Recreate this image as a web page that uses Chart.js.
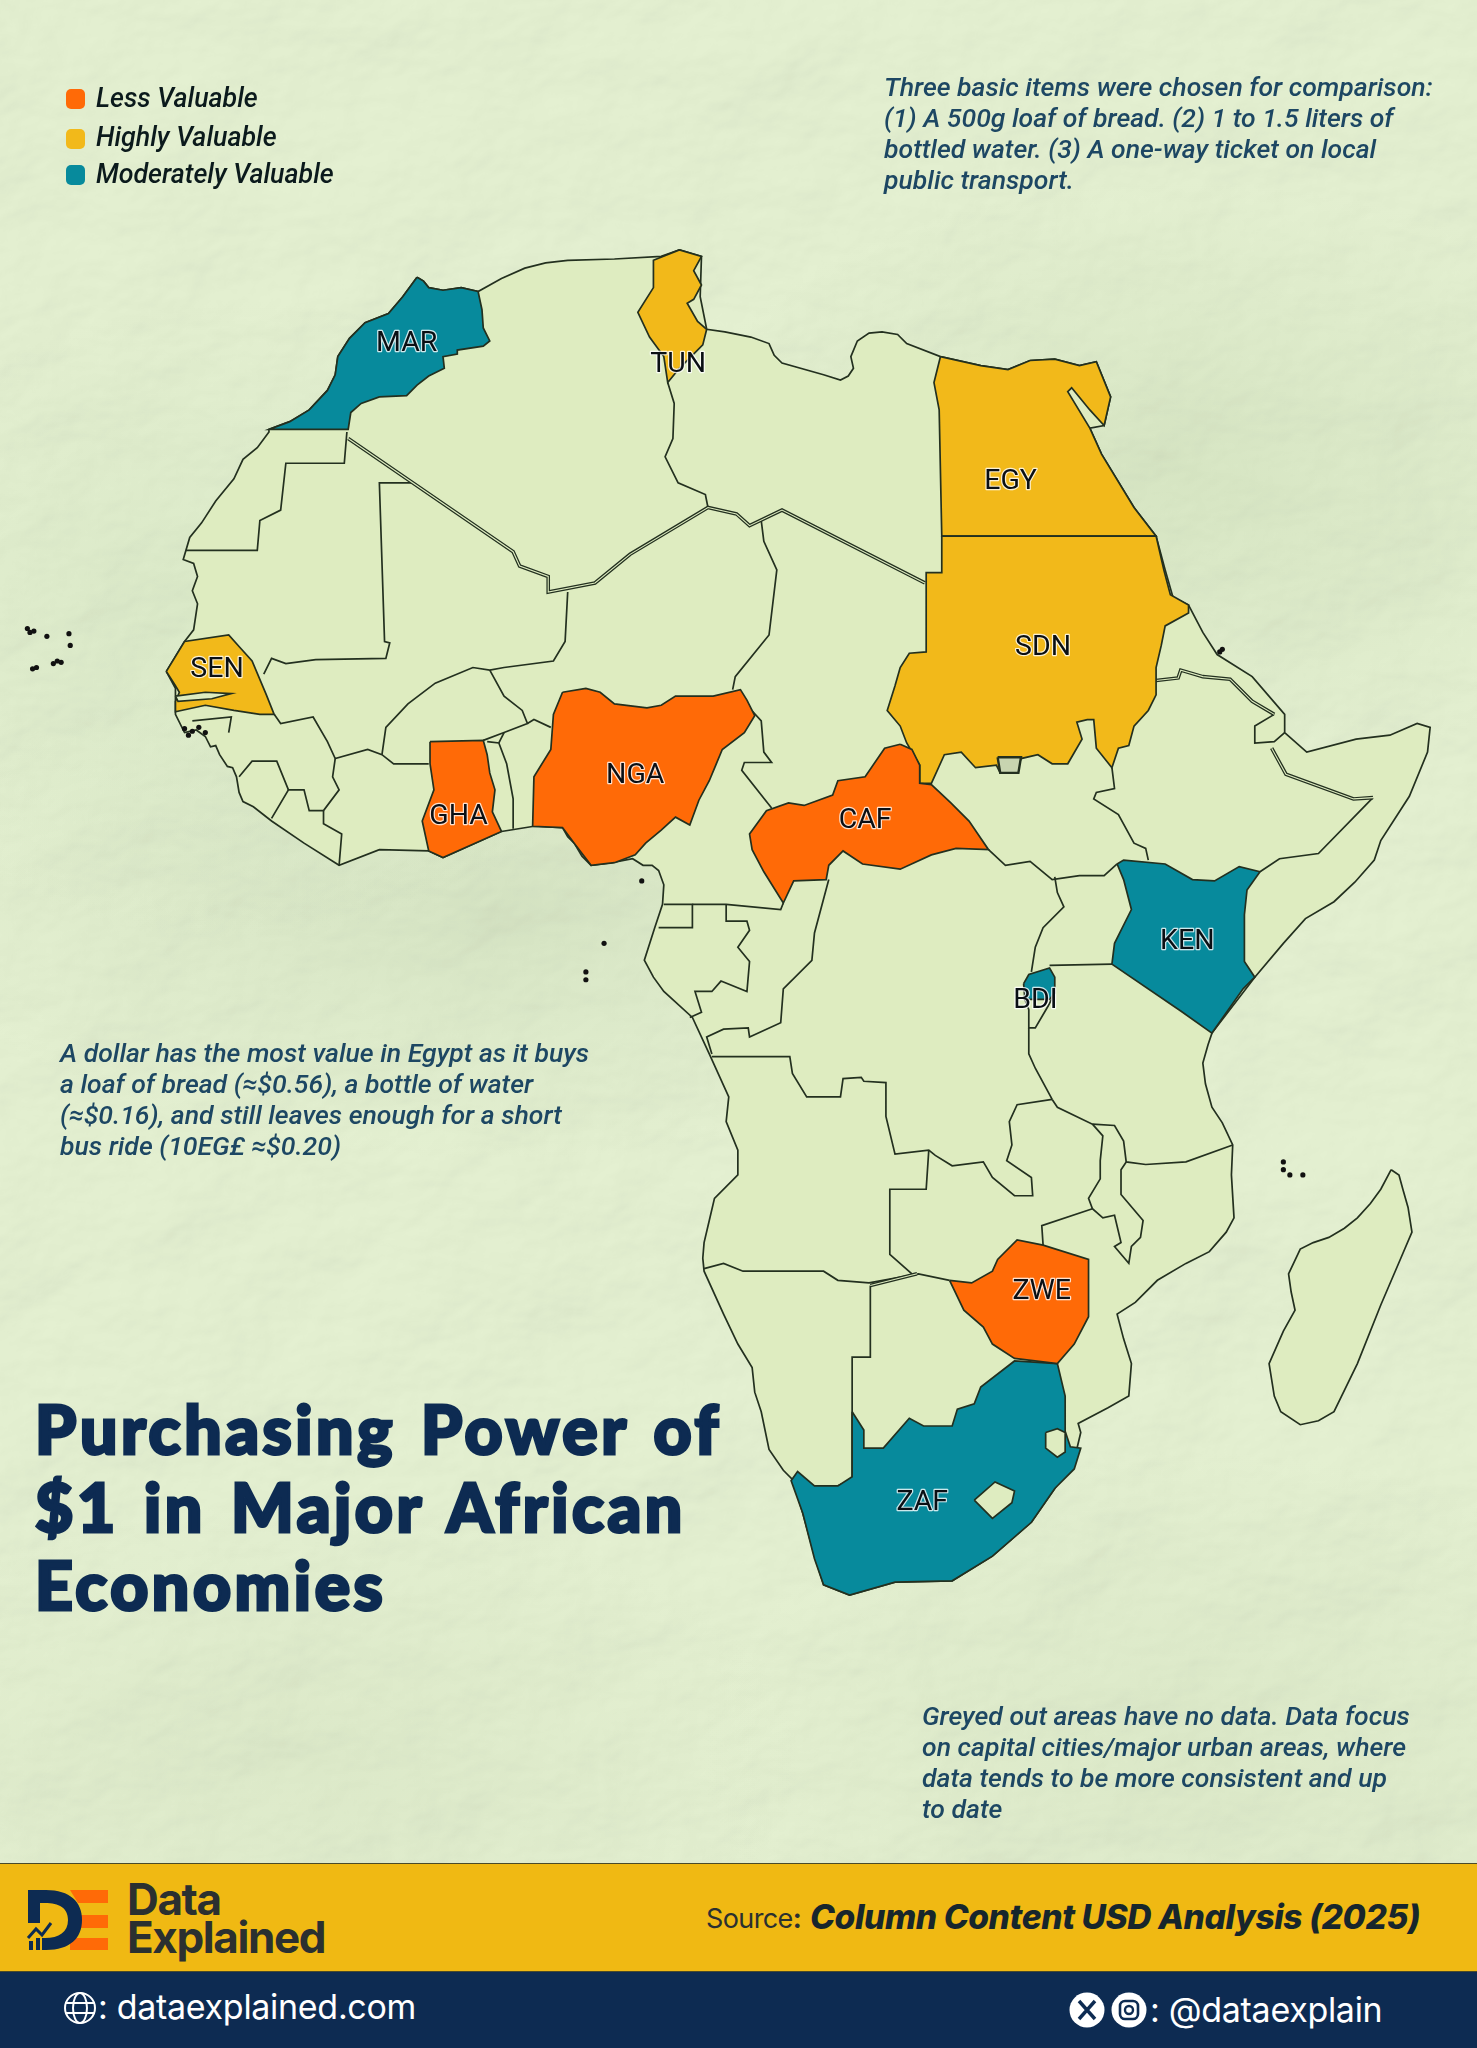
<!DOCTYPE html>
<html>
<head>
<meta charset="utf-8">
<title>Purchasing Power of $1 in Major African Economies</title>
<script src="https://cdn.jsdelivr.net/npm/chart.js@4"></script>
<style>
html, body { margin: 0; padding: 0; }
body { width: 1477px; height: 2048px; position: relative; overflow: hidden; font-family: Roboto, sans-serif; background-color: #e3eed0; }
#paper { position: absolute; left: 0; top: 0; width: 1477px; height: 1863px; background:
  radial-gradient(ellipse 520px 300px at 1180px 480px, rgba(205,222,185,.55), transparent),
  radial-gradient(ellipse 420px 320px at 240px 620px, rgba(208,226,190,.5), transparent),
  radial-gradient(ellipse 600px 260px at 500px 900px, rgba(206,222,188,.6), transparent),
  radial-gradient(ellipse 500px 300px at 1200px 1750px, rgba(212,226,192,.5), transparent),
  radial-gradient(ellipse 500px 260px at 300px 1760px, rgba(210,224,190,.4), transparent),
  #e4f0d1; }
#paper svg { position: absolute; left: 0; top: 0; opacity: .2; mix-blend-mode: multiply; }
#map { position: absolute; left: 0; top: 0; width: 1477px; height: 2048px; }
.txt { position: absolute; white-space: nowrap; }
.note { font-style: italic; font-weight: 500; font-size: 26.6px; line-height: 31px; color: #1d4763; }
.leg { font-style: italic; font-weight: 500; font-size: 26.8px; line-height: 30px; color: #0b1a1c; left: 96px; }
.sw { position: absolute; left: 66px; width: 19px; height: 20px; border-radius: 5px; }
#title { left: 35px; top: 1390px; font-family: Lato, sans-serif; font-weight: 900; font-size: 66px; line-height: 78px; color: #0d2b52; -webkit-text-stroke: 3px #0d2b52; letter-spacing: 3.6px; word-spacing: 6px; }
#band { position: absolute; left: 0; top: 1863px; width: 1477px; height: 109px; background: #f0b913; border-top: 1px solid #4a4a2a; border-bottom: 1px solid #4a4a2a; box-sizing: border-box; }
#navy { position: absolute; left: 0; top: 1972px; width: 1477px; height: 76px; background: #0d2b52; }
.brand { left: 127px; font-family: Inter, sans-serif; font-weight: 700; font-size: 44px; line-height: 38px; color: #2b3030; letter-spacing: -1.4px; }
.foot { font-family: Inter, sans-serif; color: #fff; font-size: 34px; line-height: 38px; letter-spacing: -.3px; }
</style>
</head>
<body>
<div id="paper">
  <svg width="1477" height="1863"><filter id="crumple"><feTurbulence type="fractalNoise" baseFrequency="0.005 0.007" numOctaves="5" seed="7"/><feDiffuseLighting lighting-color="#ffffff" surfaceScale="14"><feDistantLight azimuth="50" elevation="62"/></feDiffuseLighting></filter><rect width="1477" height="1863" filter="url(#crumple)"/></svg>
</div>
<canvas id="map" width="1477" height="2048"></canvas>

<div class="sw" style="top:89px;background:#ff6a07"></div>
<div class="sw" style="top:129px;background:#f2b91a"></div>
<div class="sw" style="top:165px;background:#078a9c"></div>
<div class="txt leg" style="top:83px">Less Valuable</div>
<div class="txt leg" style="top:122px">Highly Valuable</div>
<div class="txt leg" style="top:159px">Moderately Valuable</div>

<div class="txt note" style="left:884px;top:71px">Three basic items were chosen for comparison:<br>(1) A 500g loaf of bread. (2) 1 to 1.5 liters of<br>bottled water. (3) A one-way ticket on local<br>public transport.</div>
<div class="txt note" style="left:60px;top:1037px">A dollar has the most value in Egypt as it buys<br>a loaf of bread (≈$0.56), a bottle of water<br>(≈$0.16), and still leaves enough for a short<br>bus ride (10EG£ ≈$0.20)</div>
<div class="txt note" style="left:922px;top:1700px">Greyed out areas have no data. Data focus<br>on capital cities/major urban areas, where<br>data tends to be more consistent and up<br>to date</div>
<div class="txt" id="title">Purchasing Power of<br>$1 in Major African<br>Economies</div>

<div id="band"></div>
<div id="navy"></div>
<svg style="position:absolute;left:26px;top:1888px" width="84" height="64" viewBox="0 0 84 64">
  <path d="M44 2h38v13H52zM52 27h30v13H52zM44 50h38v12H44z" fill="#ff6a07"/>
  <path d="M2 2h18c24 0 36 12 36 30s-12 30-36 30h-4V50h3c14 0 23-6 23-18S33 15 19 15H14v20H2z" fill="#0d2b52"/>
  <path d="M2 50l8-9 6 6 9-12" fill="none" stroke="#0d2b52" stroke-width="3"/>
  <path d="M3 53h4v9H3zM10 50h4v12h-4zM17 53h4v9h-4z" fill="#0d2b52"/>
</svg>
<div class="txt brand" style="top:1880px">Data</div>
<div class="txt brand" style="top:1918px">Explained</div>
<div class="txt" style="left:706px;top:1899px;font-family:Inter,sans-serif;font-size:27px;line-height:40px;color:#2b3030;letter-spacing:-.6px">Source<b>:</b></div>
<div class="txt" style="left:810px;top:1897px;font-family:Inter,sans-serif;font-weight:800;font-style:italic;font-size:33.6px;line-height:40px;color:#17262c;letter-spacing:-.4px">Column Content USD Analysis (2025)</div>

<svg style="position:absolute;left:61px;top:1991px" width="38" height="34" viewBox="0 0 38 34" fill="none" stroke="#fff" stroke-width="2">
  <circle cx="19" cy="17" r="15"/><ellipse cx="19" cy="17" rx="7" ry="15"/><path d="M4 12h30M4 22h30"/>
</svg>
<div class="txt foot" style="left:98px;top:1988px">: dataexplained.com</div>
<svg style="position:absolute;left:1069px;top:1992px" width="78" height="36" viewBox="0 0 78 36">
  <circle cx="18" cy="18" r="17.5" fill="#fff"/><circle cx="60" cy="18" r="17.5" fill="#fff"/>
  <path d="M10 9l16 18M26 9L10 27" stroke="#0d2b52" stroke-width="3.4"/>
  <rect x="51" y="9" width="18" height="18" rx="5" fill="none" stroke="#0d2b52" stroke-width="2.6"/><circle cx="60" cy="18" r="4" fill="none" stroke="#0d2b52" stroke-width="2.4"/>
</svg>
<div class="txt foot" style="left:1150px;top:1991px">: @dataexplain</div>

<script>
// map units are the picture scaled to 1131 x 1568
const MAP_W = 1131;
const MAP_H = 1568;

const COL_LESS = '#ff6a07';
const COL_HIGH = '#f2b91a';
const COL_MOD = '#078a9c';
const COL_LAND = '#deecc0';
const COL_LINE = '#23301f';

// continent outline, starts at the north of Morocco and runs down the west coast
const africaCoast = [[318,210],[307,225],[296,238],[278,245],[266,257],[257,271],[255,285],[249,297],[235,312],[220,321],[204,327],[204,329],[195,341],[184,350],[177,365],[163,382],[152,399],[143,410],[138,427],[146,430],[149,440],[145,451],[149,461],[146,481],[139,490],[125,513],[132,526],[132,546],[139,560],[148,558],[155,563],[159,571],[163,570],[166,577],[172,586],[176,587],[179,594],[181,606],[184,613],[192,617],[206,628],[231,645],[258,662],[289,650],[327,651],[338,656],[383,636],[408,632],[430,633],[434,640],[439,645],[445,655],[452,662],[468,660],[484,657],[492,662],[499,662],[504,666],[508,677],[507,692],[501,710],[493,735],[500,748],[508,759],[530,779],[543,807],[558,840],[556,859],[565,881],[565,900],[547,918],[543,935],[539,952],[538,964],[539,974],[554,1007],[565,1030],[576,1048],[578,1067],[583,1082],[589,1111],[600,1127],[607,1134],[615,1160],[624,1193],[631,1215],[651,1223],[686,1213],[730,1212],[761,1193],[791,1167],[809,1141],[824,1119],[829,1098],[827,1091],[850,1079],[866,1070],[868,1045],[862,1026],[857,1007],[871,998],[888,981],[910,968],[928,959],[941,944],[947,933],[945,900],[946,877],[938,860],[930,848],[925,830],[923,814],[927,800],[930,791],[963,748],[985,722],[1002,703],[1024,690],[1040,675],[1055,658],[1060,643],[1082,609],[1096,575],[1098,556],[1088,553],[1067,562],[1041,565],[1003,575],[986,560],[986,546],[961,517],[934,500],[923,483],[912,462],[900,456],[894,435],[887,409],[870,387],[845,346],[836,326],[847,324],[852,302],[841,275],[828,278],[809,273],[790,274],[773,281],[752,278],[721,271],[695,261],[688,254],[676,252],[666,253],[657,259],[652,271],[654,280],[650,286],[644,289],[631,285],[599,276],[593,270],[589,261],[575,256],[555,252],[541,250],[536,225],[537,194],[520,189],[506,194],[470,196],[434,197],[417,199],[401,203],[383,211],[365,221],[352,218],[338,220],[327,218],[323,213]];
const madagascar = [[1068,896],[1074,900],[1077,911],[1081,925],[1084,944],[1075,965],[1060,1000],[1042,1045],[1024,1082],[1012,1089],[998,1092],[983,1082],[978,1070],[974,1045],[985,1020],[994,1004],[991,990],[989,976],[998,957],[1008,952],[1020,948],[1032,941],[1042,933],[1052,922],[1060,911]];
const lesotho = [[747,1150],[763,1136],[778,1143],[776,1152],[761,1164]];
const eswatini = [[802,1098],[811,1095],[817,1098],[817,1113],[811,1117],[802,1110]];
const gambia = [[132,532],[155,529],[175,530],[160,534],[134,536]];
const abyei = [[765,579],[783,579],[781,591],[767,591]];

// coloured countries
const morocco = [[318,210],[323,213],[327,218],[338,220],[352,218],[365,221],[368,235],[369,249],[374,259],[369,263],[349,266],[349,269],[338,271],[339,280],[327,286],[318,293],[310,301],[289,302],[275,307],[267,314],[265,327],[204,327],[220,321],[235,312],[249,297],[255,285],[257,271],[266,257],[278,245],[296,238],[307,225]];
const tunisia = [[520,189],[537,194],[531,205],[537,216],[531,227],[526,230],[534,244],[541,250],[538,262],[520,280],[511,291],[508,271],[497,256],[488,237],[500,218],[500,197]];
const egypt = [[721,271],[752,278],[773,281],[790,274],[809,273],[828,278],[841,275],[852,302],[847,324],[836,312],[822,295],[819,298],[836,326],[845,346],[870,387],[887,409],[722,409],[720,312],[716,291]];
const sudan = [[722,409],[887,409],[893,435],[898,454],[912,462],[912,468],[894,478],[891,493],[887,510],[887,531],[881,543],[870,555],[866,570],[858,572],[853,587],[841,572],[839,550],[834,550],[826,552],[830,565],[819,584],[807,584],[796,577],[783,580],[779,591],[767,591],[764,585],[748,587],[737,575],[724,577],[714,599],[705,599],[705,585],[695,568],[690,555],[680,543],[686,524],[690,510],[697,499],[710,498],[710,437],[722,437]];
const senegal = [[125,513],[139,490],[173,485],[182,495],[191,505],[202,531],[208,546],[197,546],[177,543],[155,539],[132,544],[132,536],[135,529],[132,524]];
const ghana = [[328,567],[369,566],[372,577],[374,591],[378,604],[376,621],[383,636],[338,656],[327,651],[322,628],[331,604],[328,584]];
const nigeria = [[430,529],[448,526],[459,529],[470,538],[495,541],[506,539],[517,532],[546,532],[567,527],[572,535],[578,547],[570,560],[553,573],[548,585],[543,597],[535,612],[528,631],[517,625],[506,635],[494,645],[486,654],[470,660],[452,662],[439,645],[430,633],[407,632],[408,594],[421,573],[423,546]];
const centralAfrica = [[690,569],[699,573],[705,585],[705,599],[714,600],[729,614],[743,628],[758,650],[733,649],[714,654],[690,665],[661,661],[646,651],[635,662],[633,673],[608,674],[600,691],[585,667],[576,650],[574,638],[587,620],[604,614],[616,616],[638,608],[642,597],[663,594],[678,572]];
const kenya = [[857,661],[862,658],[894,661],[915,673],[932,674],[951,663],[967,667],[957,681],[955,700],[955,736],[963,748],[954,757],[930,791],[906,774],[853,738],[855,722],[868,696],[862,673]];
const burundi = [[785,753],[789,746],[805,741],[809,748],[809,760],[805,765],[786,765]];
const zimbabwe = [[728,981],[745,983],[761,974],[765,965],[780,950],[800,954],[835,965],[835,1009],[824,1030],[811,1045],[778,1041],[761,1030],[754,1017],[739,1004]];
const southAfrica = [[653,1082],[662,1096],[662,1110],[677,1110],[697,1087],[708,1093],[730,1093],[734,1080],[747,1076],[752,1063],[778,1043],[811,1045],[817,1070],[817,1097],[821,1109],[829,1110],[824,1126],[809,1141],[791,1167],[761,1193],[730,1212],[686,1213],[651,1223],[631,1215],[624,1195],[615,1160],[606,1135],[611,1128],[624,1139],[642,1139],[653,1132]];

// borders drawn as a dark line with a pale core
const doubleBorders = [
  [[265,334],[392,421],[397,432],[419,440],[419,452],[455,445],[482,423],[542,387],[564,392],[574,401],[599,389],[709,445]],
  [[887,520],[904,518],[906,512],[923,517],[944,519],[961,536],[978,546]],
  [[976,572],[987,592],[1039,611],[1054,610]],
  [[667,985],[703,976]]
];

// plain borders
const borderLines = [
  [[511,291],[516,307],[515,334],[509,348],[519,368],[540,377],[542,387]],
  [[264,329],[262,353],[217,353],[213,389],[197,397],[195,420],[140,420]],
  [[314,368],[289,368],[293,490],[297,491],[294,503],[240,504],[217,507],[206,503],[200,515]],
  [[434,452],[432,490],[423,505],[385,510],[374,512],[361,510],[332,522],[311,538],[294,556],[291,577]],
  [[208,546],[213,553],[238,548],[249,567],[255,580],[280,573],[291,577],[300,584],[327,584]],
  [[255,580],[253,594],[258,604],[246,620],[235,620],[231,604],[219,604],[206,626]],
  [[246,620],[246,630],[260,638],[258,662]],
  [[181,594],[191,582],[210,582],[219,604]],
  [[145,551],[175,548],[173,560]],
  [[369,566],[385,560],[403,553],[399,543],[385,532],[374,512]],
  [[372,567],[381,568],[387,584],[392,611],[392,634]],
  [[381,568],[385,560]],
  [[421,556],[408,550],[403,553]],
  [[561,527],[563,517],[589,485],[595,435],[585,413],[583,397]],
  [[572,539],[583,551],[585,575],[591,583],[570,583],[568,589],[587,613],[591,618]],
  [[853,587],[855,603],[841,606],[839,611],[858,623],[870,645],[879,649],[881,658]],
  [[758,650],[771,662],[790,659],[807,673],[828,670],[847,670],[857,661]],
  [[978,546],[963,555],[963,568],[978,567],[986,560]],
  [[1054,610],[1012,653],[982,657],[967,667]],
  [[809,671],[811,683],[816,694],[800,710],[794,725],[791,744]],
  [[805,739],[853,738]],
  [[786,765],[789,773],[789,787],[794,787],[804,770],[809,760]],
  [[789,787],[789,807],[794,818],[807,842]],
  [[807,842],[780,846],[774,859],[776,877],[772,889],[791,902],[792,916],[778,916],[761,902],[754,890],[730,893],[717,885],[712,881],[686,884],[679,855],[679,829],[662,828],[660,825],[646,826],[644,840],[618,840],[607,822],[605,809],[545,809]],
  [[807,842],[811,848],[838,861],[855,862],[862,874],[864,890],[879,892],[910,890],[946,877]],
  [[838,861],[846,870],[844,889],[844,903],[835,918],[838,926],[846,933],[855,931],[860,952],[855,955],[866,968],[868,955],[875,948],[877,935],[860,915],[860,896],[864,890]],
  [[838,926],[799,939],[800,954]],
  [[539,972],[554,968],[569,974],[631,974],[642,981],[666,983],[704,976],[728,981]],
  [[712,881],[710,911],[682,911],[682,961],[699,976]],
  [[667,985],[667,1040],[653,1040],[653,1134],[642,1139]],
  [[508,692],[530,692],[530,710],[504,710]],
  [[530,692],[556,692],[598,696],[600,691]],
  [[556,692],[556,705],[572,705],[574,712],[565,725],[574,736],[572,759],[552,751],[545,759],[532,759],[537,775],[528,779]],
  [[635,673],[624,714],[622,735],[600,757],[598,783],[574,794],[573,787],[554,788],[541,794],[545,807]]
];

// small islands, read as dots
const islandX = [18,20,23,33,50,51,25,22,38,44,41,985,985,990,1000,491,462,448,448,936,938,139,145,150,155,142];
const islandY = [480,483,482,486,484,493,510,511,507,506,505,890,896,900,900,674,722,744,750,498,496,557,559,556,560,562];

const countryCodes = ['MAR','TUN','EGY','SDN','SEN','GHA','NGA','CAF','KEN','BDI','ZWE','ZAF'];
const codeX = [310,519,775,800,164,350,486,663,911,794,799,707];
const codeY = [261,277,367,495,512,625,593,628,721,766,990,1152];

function toPoints(pairs, closed) {
    const pts = pairs.map(p => ({ x: p[0], y: p[1] }));
    if (closed) pts.push(pts[0]);
    return pts;
}

function area(pairs, color, width) {
    return { data: toPoints(pairs, true), showLine: true, fill: 'shape', backgroundColor: color, borderColor: COL_LINE, borderWidth: width || 1.7, pointRadius: 0, tension: 0 };
}

function line(pairs, color, width) {
    return { data: toPoints(pairs, false), showLine: true, fill: false, borderColor: color, borderWidth: width, pointRadius: 0, tension: 0 };
}

let conjuntos = [];
conjuntos.push(area(africaCoast, COL_LAND));
conjuntos.push(area(madagascar, COL_LAND));
borderLines.forEach(b => conjuntos.push(line(b, COL_LINE, 1.7)));
doubleBorders.forEach(b => conjuntos.push(line(b, COL_LINE, 3.6)));
doubleBorders.forEach(b => conjuntos.push(line(b, COL_LAND, 1.1)));
[morocco, southAfrica, kenya, burundi].forEach(c => conjuntos.push(area(c, COL_MOD)));
[tunisia, egypt, sudan, senegal].forEach(c => conjuntos.push(area(c, COL_HIGH)));
[ghana, nigeria, centralAfrica, zimbabwe].forEach(c => conjuntos.push(area(c, COL_LESS)));
conjuntos.push(area(lesotho, COL_LAND));
conjuntos.push(area(eswatini, COL_LAND));
conjuntos.push(area(gambia, COL_LAND));
conjuntos.push(area(abyei, '#c8d4b0', 2.4));
conjuntos.push({ data: islandX.map((x, i) => ({ x: x, y: islandY[i] })), showLine: false, pointRadius: 2.6, pointBackgroundColor: '#111', pointBorderWidth: 0 });

// lower order is painted last, so the list above stays bottom first
conjuntos.forEach((d, i) => { d.order = conjuntos.length - i; });

const rotulosPaises = {
    id: 'rotulosPaises',
    afterDatasetsDraw(chart) {
        const ctx = chart.ctx;
        ctx.save();
        ctx.font = '400 28.5px Roboto, sans-serif';
        ctx.textAlign = 'center';
        ctx.textBaseline = 'middle';
        ctx.lineJoin = 'round';
        countryCodes.forEach((code, i) => {
            const px = chart.scales.x.getPixelForValue(codeX[i]);
            const py = chart.scales.y.getPixelForValue(codeY[i]);
            ctx.lineWidth = 2.4;
            ctx.strokeStyle = 'rgba(255,255,255,.8)';
            ctx.strokeText(code, px, py);
            ctx.fillStyle = '#0a0f14';
            ctx.fillText(code, px, py);
        });
        ctx.restore();
    }
};

new Chart(document.getElementById('map').getContext('2d'), {
    type: 'scatter',
    data: { datasets: conjuntos },
    options: {
        responsive: false,
        animation: false,
        layout: { padding: 0 },
        scales: {
            x: { type: 'linear', min: 0, max: MAP_W, display: false },
            y: { type: 'linear', min: 0, max: MAP_H, reverse: true, display: false }
        },
        plugins: {
            legend: { display: false },
            tooltip: { enabled: false },
            filler: { drawTime: 'beforeDatasetDraw' }
        }
    },
    plugins: [rotulosPaises]
});
</script>
</body>
</html>
